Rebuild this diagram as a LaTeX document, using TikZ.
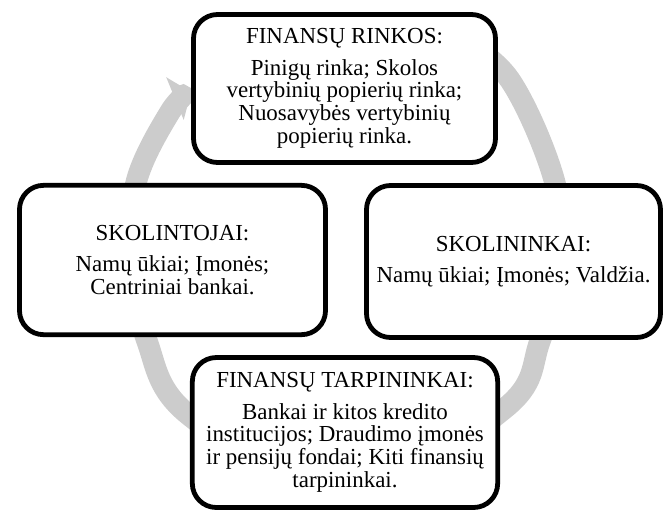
\documentclass[tikz,border=0pt]{standalone}
\usepackage{fontspec}
\setmainfont{Liberation Serif}
\usepackage{xcolor}
\usetikzlibrary{arrows.meta}
\definecolor{cyclegray}{RGB}{204,204,204}
\tikzset{
    block/.style={rectangle, rounded corners=18pt, minimum height=112pt, inner sep=0pt, align=center, draw=black, line width=3.6pt, fill=white, font=\fontsize{17.2}{17}\selectfont},
    cyclearrow/.style={draw=cyclegray, line width=16pt, -{Triangle[length=13pt, width=34pt]}}
}

\begin{document}
\begin{tikzpicture}[x=0.75pt, y=-0.75pt]
    \useasboundingbox (0,0) rectangle (665,512);
    % cycle arrow behind the boxes
    \draw [cyclearrow] plot [smooth, tension=0.6] coordinates {(455,35) (510,80) (555,183) (558,262) (540,341) (504,409) (345,497) (190,416) (147,341) (134,262) (136,183) (170,112) (191,92)};

    \node (rinkos) [block, minimum width=226.5pt, minimum height=111pt] at (344.5,88.5) {FINANSŲ RINKOS:\\[6.5pt] Pinigų rinka; Skolos\\ vertybinių popierių rinka;\\ Nuosavybės vertybinių\\ popierių rinka.};
    \node (skolintojai) [block, minimum width=229.5pt] at (172.5,260) {SKOLINTOJAI:\\[6.5pt] Namų ūkiai; Įmonės;\\ Centriniai bankai.};
    \node (skolininkai) [block, minimum width=220.5pt, minimum height=114pt] at (513.5,261.5) {SKOLININKAI:\\[6.5pt] Namų ūkiai; Įmonės; Valdžia.};
    \node (tarpininkai) [block, minimum width=229pt, minimum height=112.5pt] at (345,432.5) {FINANSŲ TARPININKAI:\\[6.5pt] Bankai ir kitos kredito\\ institucijos; Draudimo įmonės\\ ir pensijų fondai; Kiti finansių\\ tarpininkai.};
\end{tikzpicture}
\end{document}
